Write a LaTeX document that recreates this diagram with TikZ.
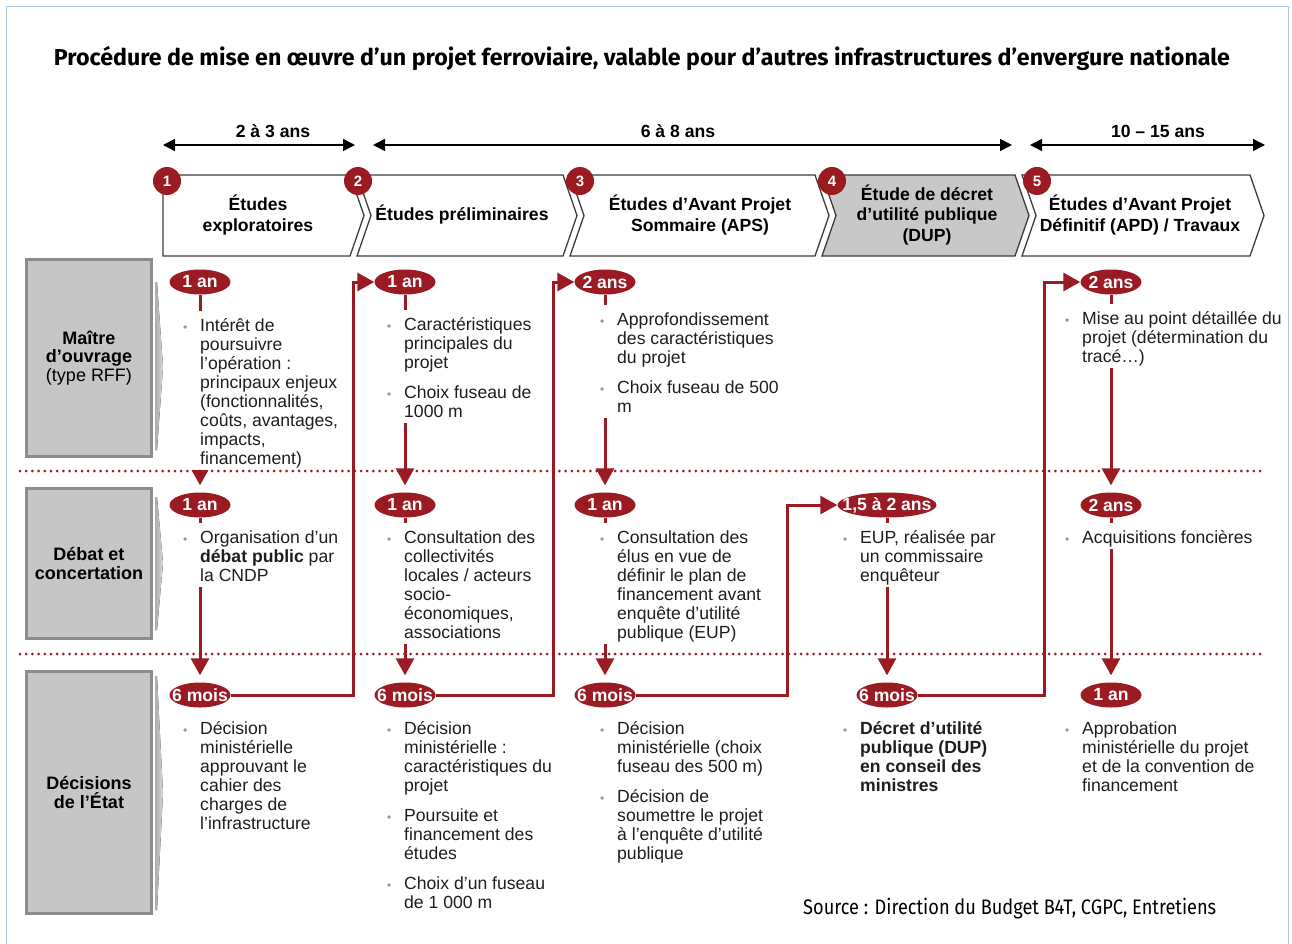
\documentclass[tikz,border=0pt]{standalone}
\usepackage{fontspec}
\usepackage{graphicx}
\setmainfont{Liberation Sans}
\newfontfamily\headfont{Fira Sans}
\usetikzlibrary{arrows.meta,shapes.geometric}

\pgfdeclarelayer{bg}
\pgfdeclarelayer{fg}
\pgfsetlayers{bg,main,fg}

\definecolor{dred}{RGB}{155,27,35}
\definecolor{framecol}{RGB}{175,203,228}
\definecolor{lblfill}{RGB}{198,198,198}
\definecolor{lbledge}{RGB}{140,140,140}
\definecolor{chevgray}{RGB}{200,200,200}
\definecolor{chevedge}{RGB}{60,60,60}
\definecolor{bulgray}{RGB}{150,150,150}
\definecolor{txtcol}{RGB}{30,30,30}

\newcommand\bodysize{\fontsize{17.6}{19.1}\selectfont}
\newcommand\bl{\makebox[17pt][l]{\textcolor{bulgray}{\fontsize{12}{12}\selectfont •}}}
\newcommand\topgap{\rule{0pt}{20pt}}
\newcommand\pill[1]{\makebox[0pt]{#1}}

\tikzset{
  bodytxt/.style={anchor=base west, inner sep=0pt, fill=white, font=\bodysize, text=txtcol},
  pillnode/.style={ellipse, fill=dred, text=white, font=\bfseries\fontsize{17.6}{20}\selectfont,
    minimum width=61pt, minimum height=25pt, inner sep=0pt},
  rowlabel/.style={rectangle, fill=lblfill, draw=lbledge, line width=3pt, align=center,
    font=\fontsize{18}{18.6}\selectfont, text=black, minimum width=125pt},
  wedge/.style={left color=gray!65, right color=gray!30},
  chevshape/.style={draw=chevedge, line width=1.3pt, fill=white, line join=miter},
  chevtxt/.style={align=center, font=\bfseries\fontsize{17.6}{20.5}\selectfont, text=black, inner sep=0pt},
  stepnum/.style={circle, fill=dred, text=white, font=\bfseries\fontsize{15}{15}\selectfont,
    minimum size=28pt, inner sep=0pt},
  spanarrow/.style={line width=1.5pt, draw=black,
    {Triangle[length=12pt,width=12pt]}-{Triangle[length=12pt,width=12pt]}},
  spanlbl/.style={anchor=base, font=\bfseries\fontsize{17.6}{20}\selectfont, text=black, inner sep=0pt},
  flowarrow/.style={draw=dred, line width=3pt, -{Triangle[length=17pt,width=18pt]}},
  dotrow/.style={draw=dred, line width=3pt, line cap=round, dash pattern=on 0pt off 6.2pt},
}

\begin{document}
\begin{tikzpicture}[x=1pt,y=-1pt]
\useasboundingbox (0,0) rectangle (1292,944);
\begin{pgfonlayer}{bg}
  \fill[white] (0,0) rectangle (1292,944);
\end{pgfonlayer}
\draw[framecol, line width=1pt] (6,960) -- (6,7) -- (1288,7) -- (1288,960);

% title and source
\node[anchor=base, inner sep=0pt] (title) at (642,66)
  {\resizebox{1176pt}{\height}{\headfont\bfseries\fontsize{23}{26}\selectfont
   Procédure de mise en œuvre d’un projet ferroviaire, valable pour d’autres infrastructures d’envergure nationale}};
\node[anchor=base west, inner sep=0pt] (source) at (803,914)
  {\resizebox{413pt}{\height}{\headfont\fontsize{21}{24}\selectfont
   Source : Direction du Budget B4T, CGPC, Entretiens}};

% duration spans
\coordinate (s1a) at (163,145); \coordinate (s1b) at (355,145);
\coordinate (s2a) at (373,145); \coordinate (s2b) at (1012,145);
\coordinate (s3a) at (1030,145); \coordinate (s3b) at (1265,145);
\draw[spanarrow] (s1a) -- (s1b);
\draw[spanarrow] (s2a) -- (s2b);
\draw[spanarrow] (s3a) -- (s3b);
\node[spanlbl] (sl1) at (273,138) {2 à 3 ans};
\node[spanlbl] (sl2) at (678,138) {6 à 8 ans};
\node[spanlbl] (sl3) at (1158,138) {10 – 15 ans};

% phase chevrons
\draw[chevshape] (163,175) -- (350,175) -- (364,215.5) -- (350,256) -- (163,256) -- cycle;
\draw[chevshape] (357,175) -- (563,175) -- (577,215.5) -- (563,256) -- (357,256) -- (371,215.5) -- cycle;
\draw[chevshape] (570,175) -- (815,175) -- (829,215.5) -- (815,256) -- (570,256) -- (584,215.5) -- cycle;
\draw[chevshape, fill=chevgray] (822,175) -- (1015,175) -- (1029,215.5) -- (1015,256) -- (822,256) -- (836,215.5) -- cycle;
\draw[chevshape] (1022,175) -- (1250,175) -- (1264,215.5) -- (1250,256) -- (1022,256) -- (1036,215.5) -- cycle;

\node[chevtxt] (h1) at (258,215) {Études\\exploratoires};
\node[chevtxt] (h2) at (462,215) {Études préliminaires};
\node[chevtxt] (h3) at (700,215) {Études d'Avant Projet\\Sommaire (APS)};
\node[chevtxt] (h4) at (927,215) {Étude de décret\\d’utilité publique\\(DUP)};
\node[chevtxt] (h5) at (1140,215) {Études d’Avant Projet\\Définitif (APD) / Travaux};

\node[stepnum] (n1) at (167,181) {1};
\node[stepnum] (n2) at (358,181) {2};
\node[stepnum] (n3) at (580,181) {3};
\node[stepnum] (n4) at (832,181) {4};
\node[stepnum] (n5) at (1037,181) {5};

% row labels
\node[rowlabel, minimum height=197pt] (r1) at (89,358) {\textbf{Maître}\\\textbf{d’ouvrage}\\(type RFF)};
\node[rowlabel, minimum height=150pt] (r2) at (89,563.5) {\textbf{Débat et}\\\textbf{concertation}};
\node[rowlabel, minimum height=242pt] (r3) at (89,792.5) {\textbf{Décisions}\\\textbf{de l’État}};
\fill[wedge] (155,282) -- (157,282) -- (163,367) -- (157,450) -- (155,450) -- cycle;
\fill[wedge] (155,497) -- (157,497) -- (163,563) -- (157,630) -- (155,630) -- cycle;
\fill[wedge] (155,676) -- (157,676) -- (163,793) -- (157,910) -- (155,910) -- cycle;

% duration ellipses
\node[pillnode] (e11) at (200,282) {\pill{1 an}};
\node[pillnode] (e12) at (405,282) {\pill{1 an}};
\node[pillnode] (e13) at (605,282) {\pill{2 ans}};
\node[pillnode] (e15) at (1111,282) {\pill{2 ans}};
\node[pillnode] (e21) at (200,505) {\pill{1 an}};
\node[pillnode] (e22) at (405,505) {\pill{1 an}};
\node[pillnode] (e23) at (605,505) {\pill{1 an}};
\node[pillnode, minimum width=99pt] (e24) at (887,505) {\pill{1,5 à 2 ans}};
\node[pillnode] (e25) at (1111,505) {\pill{2 ans}};
\node[pillnode] (e31) at (200,695) {\pill{6 mois}};
\node[pillnode] (e32) at (405,695) {\pill{6 mois}};
\node[pillnode] (e33) at (605,695) {\pill{6 mois}};
\node[pillnode] (e34) at (887,695) {\pill{6 mois}};
\node[pillnode] (e35) at (1111,695) {\pill{1 an}};

% bullet texts
\node[bodytxt] (t11) at (183,331) {\begin{tabular}[t]{@{}l@{}l@{}}
  \bl\topgap & Intérêt de\\ & poursuivre\\ & l'opération :\\ & principaux enjeux\\
  & (fonctionnalités,\\ & coûts, avantages,\\ & impacts,\\ & financement)\end{tabular}};
\node[bodytxt] (t12) at (387,330) {\begin{tabular}[t]{@{}l@{}l@{}}
  \bl\topgap & Caractéristiques\\ & principales du\\ & projet\\[11pt]
  \bl & Choix fuseau de\\ & 1000 m\end{tabular}};
\node[bodytxt] (t13) at (600,325) {\begin{tabular}[t]{@{}l@{}l@{}}
  \bl\topgap & Approfondissement\\ & des caractéristiques\\ & du projet\\[11pt]
  \bl & Choix fuseau de 500\\ & m\end{tabular}};
\node[bodytxt] (t15) at (1065,324) {\begin{tabular}[t]{@{}l@{}l@{}}
  \bl\topgap & Mise au point détaillée du\\ & projet (détermination du\\ & tracé…)\end{tabular}};

\node[bodytxt] (t21) at (183,543) {\begin{tabular}[t]{@{}l@{}l@{}}
  \bl\topgap & Organisation d'un\\ & \textbf{débat public} par\\ & la CNDP\end{tabular}};
\node[bodytxt] (t22) at (387,543) {\begin{tabular}[t]{@{}l@{}l@{}}
  \bl\topgap & Consultation des\\ & collectivités\\ & locales / acteurs\\ & socio-\\
  & économiques,\\ & associations\end{tabular}};
\node[bodytxt] (t23) at (600,543) {\begin{tabular}[t]{@{}l@{}l@{}}
  \bl\topgap & Consultation des\\ & élus en vue de\\ & définir le plan de\\
  & financement avant\\ & enquête d'utilité\\ & publique (EUP)\end{tabular}};
\node[bodytxt] (t24) at (843,543) {\begin{tabular}[t]{@{}l@{}l@{}}
  \bl\topgap & EUP, réalisée par\\ & un commissaire\\ & enquêteur\end{tabular}};
\node[bodytxt] (t25) at (1065,543) {\begin{tabular}[t]{@{}l@{}l@{}}
  \bl\topgap & Acquisitions foncières\end{tabular}};

\node[bodytxt] (t31) at (183,734) {\begin{tabular}[t]{@{}l@{}l@{}}
  \bl & Décision\\ & ministérielle\\ & approuvant le\\ & cahier des\\
  & charges de\\ & l'infrastructure\end{tabular}};
\node[bodytxt] (t32) at (387,734) {\begin{tabular}[t]{@{}l@{}l@{}}
  \bl & Décision\\ & ministérielle :\\ & caractéristiques du\\ & projet\\[11pt]
  \bl & Poursuite et\\ & financement des\\ & études\\[11pt]
  \bl & Choix d'un fuseau\\ & de 1 000 m\end{tabular}};
\node[bodytxt] (t33) at (600,734) {\begin{tabular}[t]{@{}l@{}l@{}}
  \bl & Décision\\ & ministérielle (choix\\ & fuseau des 500 m)\\[11pt]
  \bl & Décision de\\ & soumettre le projet\\ & à l'enquête d'utilité\\ & publique\end{tabular}};
\node[bodytxt] (t34) at (843,734) {\begin{tabular}[t]{@{}l@{}l@{}}
  \bl & \textbf{Décret d'utilité}\\ & \textbf{publique (DUP)}\\ & \textbf{en conseil des}\\
  & \textbf{ministres}\end{tabular}};
\node[bodytxt] (t35) at (1065,734) {\begin{tabular}[t]{@{}l@{}l@{}}
  \bl & Approbation\\ & ministérielle du projet\\ & et de la convention de\\
  & financement\end{tabular}};

% turning points of the links between phases
\coordinate (v12) at (353,0);
\coordinate (v23) at (553,0);
\coordinate (v34) at (787,0);
\coordinate (v45) at (1044,0);

\begin{pgfonlayer}{bg}
  \draw[flowarrow, shorten >=7pt] (e11) -- (e21);
  \draw[flowarrow, shorten >=7pt] (e21) -- (e31);
  \draw[flowarrow, shorten >=7pt] (e12) -- (e22);
  \draw[flowarrow, shorten >=7pt] (e22) -- (e32);
  \draw[flowarrow, shorten >=7pt] (e13) -- (e23);
  \draw[flowarrow, shorten >=7pt] (e23) -- (e33);
  \draw[flowarrow, shorten >=7pt] (e24) -- (e34);
  \draw[flowarrow, shorten >=7pt] (e15) -- (e25);
  \draw[flowarrow, shorten >=7pt] (e25) -- (e35);
  \draw[flowarrow] (e31.east) -| (e12.west -| v12) -- (e12.west);
  \draw[flowarrow] (e32.east) -| (e13.west -| v23) -- (e13.west);
  \draw[flowarrow] (e33.east) -| (e24.west -| v34) -- (e24.west);
  \draw[flowarrow] (e34.east) -| (e15.west -| v45) -- (e15.west);
\end{pgfonlayer}

% row separators
\coordinate (sep1a) at (20,471); \coordinate (sep1b) at (1262,471);
\coordinate (sep2a) at (20,654); \coordinate (sep2b) at (1262,654);
\begin{pgfonlayer}{fg}
  \draw[dotrow] (sep1a) -- (sep1b);
  \draw[dotrow] (sep2a) -- (sep2b);
\end{pgfonlayer}
\end{tikzpicture}
\end{document}
